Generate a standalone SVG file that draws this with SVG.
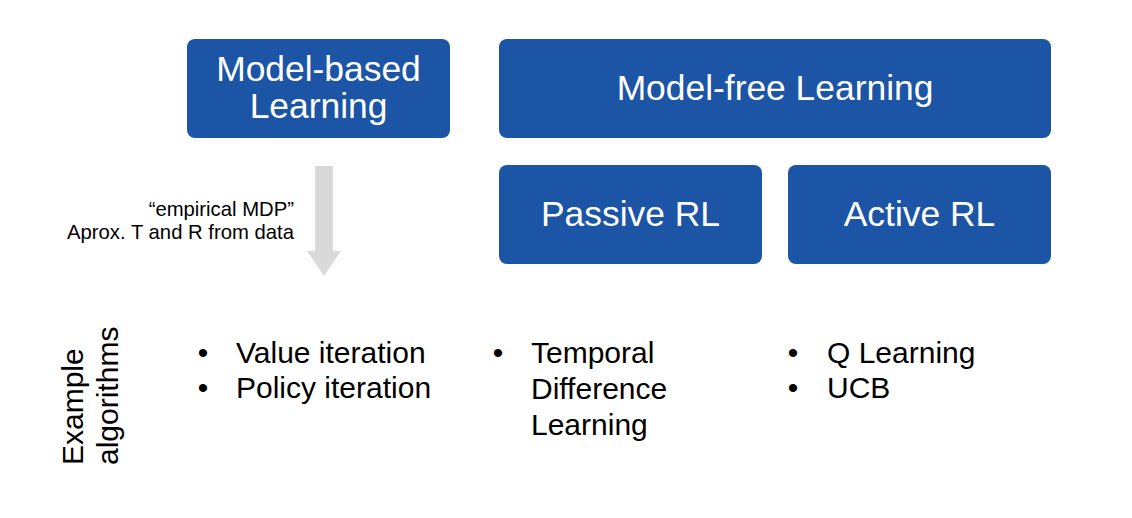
<svg xmlns="http://www.w3.org/2000/svg" width="1132" height="518" viewBox="0 0 1132 518">
<style>
.box{fill:#1C55A5}
.bt{fill:#fff;font-family:"Liberation Sans",Arial,sans-serif;font-size:35.4px;text-anchor:middle}
.t{fill:#000;font-family:"Liberation Sans",Arial,sans-serif;font-size:30px}
.b{fill:#000;font-family:"Liberation Sans",Arial,sans-serif;font-size:30px;text-anchor:middle}
.s{fill:#000;font-family:"Liberation Sans",Arial,sans-serif;font-size:20.3px;text-anchor:end}
</style>
<rect width="1132" height="518" fill="#fff"/>
<g id="model-based">
<rect class="box" x="187" y="39" width="263" height="99" rx="8"/>
<text class="bt" x="318.5" y="81"><tspan x="318.5" y="81">Model-based</tspan><tspan x="318.5" y="117.5">Learning</tspan></text>
</g>
<g id="model-free">
<rect class="box" x="499" y="39" width="552" height="99" rx="8"/>
<text class="bt" x="775" y="100">Model-free Learning</text>
</g>
<g id="passive">
<rect class="box" x="499" y="165" width="263" height="99" rx="8"/>
<text class="bt" x="630.5" y="226">Passive RL</text>
</g>
<g id="active">
<rect class="box" x="788" y="165" width="263" height="99" rx="8"/>
<text class="bt" x="919.5" y="226">Active RL</text>
</g>
<g id="connectors">
<polygon points="315,166 333,166 333,251 341,251 324,276 307,251 315,251" fill="#D9D9D9"/>
</g>
<g id="arrow-label">
<text class="s" x="294" y="216">“empirical MDP”</text>
<text class="s" x="294" y="239">Aprox. T and R from data</text>
</g>
<g id="row-label">
<text class="t" transform="translate(83,465) rotate(-90)">Example</text>
<text class="t" transform="translate(118,465) rotate(-90)">algorithms</text>
</g>
<g id="list-model-based">
<text class="b" x="203" y="363">•</text>
<text class="t" x="236" y="363">Value iteration</text>
<text class="b" x="203" y="398">•</text>
<text class="t" x="236" y="398">Policy iteration</text>
</g>
<g id="list-passive">
<text class="b" x="498" y="363">•</text>
<text class="t" x="531" y="363">Temporal</text>
<text class="t" x="531" y="399">Difference</text>
<text class="t" x="531" y="435">Learning</text>
</g>
<g id="list-active">
<text class="b" x="793" y="363">•</text>
<text class="t" x="827" y="363">Q Learning</text>
<text class="b" x="793" y="398">•</text>
<text class="t" x="827" y="398">UCB</text>
</g>
</svg>
